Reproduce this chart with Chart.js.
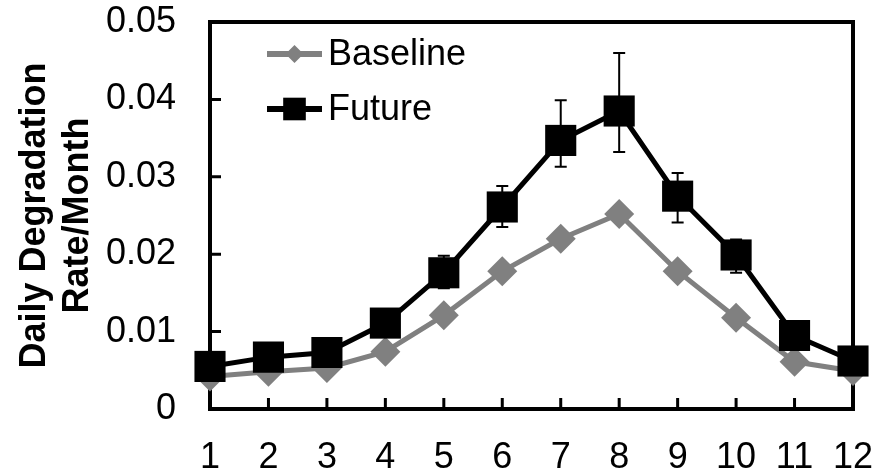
<!DOCTYPE html>
<html>
<head>
<meta charset="utf-8">
<script src="https://cdn.jsdelivr.net/npm/chart.js@4/dist/chart.umd.min.js"></script>
<style>
  html, body { margin: 0; padding: 0; background: #fff; }
  #wrap { width: 892px; height: 474px; }
</style>
</head>
<body>
<div id="wrap"><canvas id="c" width="892" height="474"></canvas></div>
<script>
const months = ['1','2','3','4','5','6','7','8','9','10','11','12'];
const baseline = [0.0042, 0.0048, 0.0053, 0.0074, 0.0121, 0.0178, 0.0220, 0.0252, 0.0178, 0.0118, 0.0061, 0.0049];
const future = [0.0055, 0.0067, 0.0073, 0.0111, 0.0176, 0.0261, 0.0347, 0.0385, 0.0275, 0.0199, 0.0095, 0.0062];
const futureHigh = [0.0060, 0.0072, 0.0078, 0.0117, 0.0198, 0.0288, 0.0399, 0.0460, 0.0305, 0.0219, 0.0100, 0.0066];
const futureLow = [0.0050, 0.0062, 0.0068, 0.0105, 0.0156, 0.0235, 0.0313, 0.0332, 0.0241, 0.0176, 0.0090, 0.0058];
const yTickLabels = ['0', '0.01', '0.02', '0.03', '0.04', '0.05'];
const seriesNames = ['Baseline', 'Future'];

const FONT = "'Liberation Sans', Arial, sans-serif";

const framePlugin = {
  id: 'frame',
  beforeDatasetsDraw(chart) {
    const {ctx, chartArea: a, scales} = chart;
    ctx.save();
    ctx.strokeStyle = '#000';
    ctx.lineWidth = 4;
    ctx.lineJoin = 'miter';
    ctx.strokeRect(a.left, a.top, a.right - a.left, a.bottom - a.top);
    ctx.lineWidth = 3;
    ctx.beginPath();
    scales.y.ticks.forEach((t, i) => {
      const y = scales.y.getPixelForTick(i);
      ctx.moveTo(a.left, y);
      ctx.lineTo(a.left + 11, y);
    });
    scales.x.ticks.forEach((t, i) => {
      const x = scales.x.getPixelForTick(i);
      ctx.moveTo(x, a.bottom);
      ctx.lineTo(x, a.bottom - 11);
    });
    ctx.stroke();
    ctx.lineWidth = 2;
    ctx.beginPath();
    for (let i = 0; i < future.length; i++) {
      const x = scales.x.getPixelForValue(i);
      const yh = scales.y.getPixelForValue(futureHigh[i]);
      const yl = scales.y.getPixelForValue(futureLow[i]);
      ctx.moveTo(x, yh); ctx.lineTo(x, yl);
      ctx.moveTo(x - 6, yh); ctx.lineTo(x + 6, yh);
      ctx.moveTo(x - 6, yl); ctx.lineTo(x + 6, yl);
    }
    ctx.stroke();
    ctx.restore();
  },
  afterDraw(chart) {
    const {ctx, chartArea: a} = chart;
    ctx.save();
    const rows = [
      {ds: chart.data.datasets[0], y: a.top + 32, r: 9},
      {ds: chart.data.datasets[1], y: a.top + 87, r: 16}
    ];
    const x0 = a.left + 57, x1 = a.left + 112;
    rows.forEach(row => {
      ctx.strokeStyle = row.ds.borderColor;
      ctx.lineWidth = 6;
      ctx.beginPath();
      ctx.moveTo(x0, row.y); ctx.lineTo(x1, row.y);
      ctx.stroke();
      ctx.fillStyle = row.ds.pointBackgroundColor;
      ctx.beginPath();
      const cx = (x0 + x1) / 2;
      if (row.ds.pointStyle === 'rect') {
        const s = row.r * Math.SQRT1_2;
        ctx.rect(cx - s, row.y - s, 2 * s, 2 * s);
      } else {
        ctx.moveTo(cx - row.r, row.y); ctx.lineTo(cx, row.y - row.r);
        ctx.lineTo(cx + row.r, row.y); ctx.lineTo(cx, row.y + row.r);
        ctx.closePath();
      }
      ctx.fill();
      ctx.fillStyle = '#000';
      ctx.font = '36px ' + FONT;
      ctx.textAlign = 'left';
      ctx.textBaseline = 'middle';
      ctx.fillText(row.ds.label, x1 + 6, row.y + 1);
    });
    ctx.restore();
  }
};

new Chart(document.getElementById('c'), {
  type: 'line',
  data: {
    labels: months,
    datasets: [
      {
        label: seriesNames[0],
        data: baseline,
        borderColor: '#808080',
        backgroundColor: '#808080',
        pointBackgroundColor: '#808080',
        pointBorderColor: '#808080',
        pointStyle: 'rectRot',
        pointRadius: 15,
        pointHoverRadius: 15,
        pointBorderWidth: 0,
        borderWidth: 5,
        tension: 0,
        clip: false,
        order: 1
      },
      {
        label: seriesNames[1],
        data: future,
        borderColor: '#000000',
        backgroundColor: '#000000',
        pointBackgroundColor: '#000000',
        pointBorderColor: '#000000',
        pointStyle: 'rect',
        pointRadius: 22,
        pointHoverRadius: 22,
        pointBorderWidth: 0,
        borderWidth: 5,
        tension: 0,
        clip: false,
        order: 0
      }
    ]
  },
  options: {
    responsive: false,
    animation: false,
    devicePixelRatio: 1,
    layout: { padding: { top: 21, right: 39, left: 0, bottom: 0 } },
    plugins: { legend: { display: false }, tooltip: { enabled: false } },
    scales: {
      x: {
        type: 'category',
        offset: false,
        grid: { display: false, drawTicks: false },
        border: { display: false },
        ticks: { color: '#000', font: { family: FONT, size: 36 }, padding: 27, maxRotation: 0, autoSkip: false },
        afterFit(s) { s.height = 65; s.paddingLeft = 0; s.paddingRight = 0; }
      },
      y: {
        min: 0,
        max: 0.05,
        grid: { display: false, drawTicks: false },
        border: { display: false },
        ticks: {
          stepSize: 0.01,
          color: '#000',
          font: { family: FONT, size: 36 },
          padding: 34,
          callback: (v, i) => yTickLabels[i]
        },
        title: {
          display: true,
          text: ['Daily Degradation', 'Rate/Month'],
          color: '#000',
          font: { family: FONT, size: 36, weight: 'bold', lineHeight: 1.2 },
          padding: { top: 13, bottom: 0 }
        },
        afterFit(s) { s.width = 210; s.paddingTop = 0; s.paddingBottom = 0; }
      }
    }
  },
  plugins: [framePlugin]
});
</script>
</body>
</html>
